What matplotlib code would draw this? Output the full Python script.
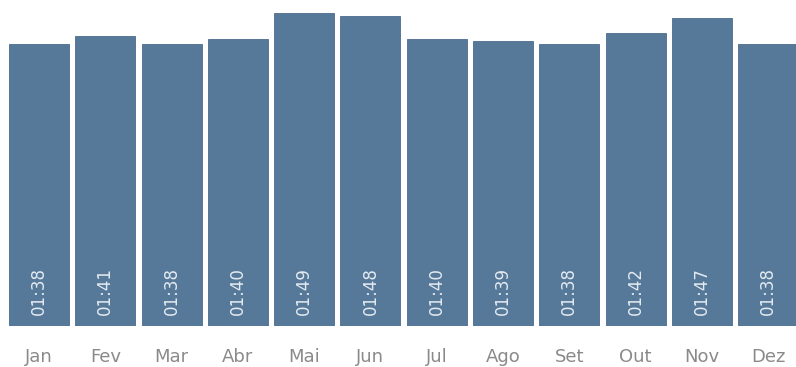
import matplotlib.pyplot as plt
import numpy as np

# Average duration per month (hh:mm)
months = ['Jan', 'Fev', 'Mar', 'Abr', 'Mai', 'Jun',
          'Jul', 'Ago', 'Set', 'Out', 'Nov', 'Dez']
durations = ['01:38', '01:41', '01:38', '01:40', '01:49', '01:48',
             '01:40', '01:39', '01:38', '01:42', '01:47', '01:38']

# convert hh:mm to minutes for bar heights
minutes = [int(d.split(':')[0]) * 60 + int(d.split(':')[1]) for d in durations]

bar_color = '#56799a'
fig = plt.figure(figsize=(7.96, 3.67), dpi=100)
ax = fig.add_axes([0, 0.112, 1, 0.888])

x = np.arange(len(months))
ax.bar(x, minutes, width=0.905, color=bar_color,
       edgecolor='#4c6d8c', linewidth=0.6)

for xi, m, label in zip(x, minutes, durations):
    ax.annotate(label, xy=(xi, 0), xytext=(0, 8), textcoords='offset points',
                rotation=90, ha='center', va='bottom',
                fontsize=12, color='#e4ebf1')

ax.set_xlim(-0.588, 11.42)
ax.set_ylim(0, 113.4)
ax.set_xticks(x)
ax.set_xticklabels(months, fontsize=13, color='#8a8a8a')
ax.tick_params(axis='x', length=0, pad=16)
ax.set_yticks([])
for spine in ax.spines.values():
    spine.set_visible(False)

plt.savefig('out.png', dpi=100)
